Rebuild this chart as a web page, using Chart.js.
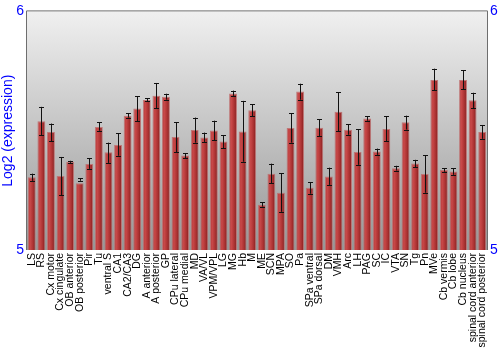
<!DOCTYPE html>
<html>
<head>
<meta charset="utf-8">
<script src="https://cdn.jsdelivr.net/npm/chart.js@4"></script>
<style>
  body { margin: 0; background: #fff; }
  #wrap { width: 500px; height: 350px; }
</style>
</head>
<body>
<div id="wrap"><canvas id="myChart"></canvas></div>
<script>
// regions
const regions = ['LS', 'RS', 'Cx motor', 'Cx cingulate', 'OB anterior', 'OB posterior', 'Pir', 'Tu',
  'ventral S', 'CA1', 'CA2/CA3', 'DG', 'A anterior', 'A posterior', 'GP', 'CPu lateral', 'CPu medial',
  'MD', 'VA/VL', 'VPM/VPL', 'LG', 'MG', 'Hb', 'M', 'ME', 'SCN', 'MPA', 'SO', 'Pa', 'SPa ventral',
  'SPa dorsal', 'DM', 'VMH', 'Arc', 'LH', 'PAG', 'SC', 'IC', 'VTA', 'SN', 'Tg', 'Pn', 'MVe',
  'Cb vermis', 'Cb lobe', 'Cb nucleus', 'spinal cord anterior', 'spinal cord posterior'];

// mean log2 expression
const expression = [5.305, 5.54, 5.495, 5.31, 5.37, 5.28, 5.36, 5.515,
  5.41, 5.44, 5.563, 5.593, 5.629, 5.646, 5.642, 5.474, 5.396,
  5.503, 5.471, 5.501, 5.455, 5.656, 5.497, 5.586, 5.19, 5.32, 5.24, 5.511, 5.664, 5.261,
  5.5125, 5.308, 5.579, 5.504, 5.411, 5.551, 5.4125, 5.507, 5.343, 5.535, 5.3625, 5.319, 5.7125,
  5.335, 5.329, 5.7125, 5.628, 5.495];

// error bar ends
const errLow = [5.29, 5.48, 5.455, 5.23, 5.365, 5.29, 5.34, 5.5,
  5.365, 5.395, 5.555, 5.54, 5.623, 5.595, 5.63, 5.41, 5.385,
  5.45, 5.453, 5.46, 5.426, 5.646, 5.37, 5.56, 5.182, 5.28, 5.16, 5.45, 5.63, 5.236,
  5.478, 5.273, 5.497, 5.483, 5.357, 5.542, 5.399, 5.456, 5.333, 5.505, 5.347, 5.24, 5.67,
  5.328, 5.315, 5.674, 5.595, 5.466];
const errHigh = [5.32, 5.6, 5.53, 5.39, 5.374, 5.3, 5.385, 5.535,
  5.45, 5.49, 5.574, 5.645, 5.636, 5.7, 5.655, 5.535, 5.405,
  5.555, 5.492, 5.542, 5.482, 5.668, 5.625, 5.611, 5.2, 5.362, 5.322, 5.574, 5.697, 5.285,
  5.547, 5.345, 5.662, 5.528, 5.507, 5.561, 5.425, 5.56, 5.353, 5.563, 5.378, 5.398, 5.76,
  5.342, 5.342, 5.753, 5.659, 5.524];

const yTicks = [5, 6];

const frame = {
  id: 'frame',
  beforeDraw(chart) {
    const { ctx, chartArea: a } = chart;
    const g = ctx.createLinearGradient(0, a.top, 0, a.bottom);
    g.addColorStop(0, '#f0f0f0');
    g.addColorStop(1, '#979797');
    ctx.save();
    ctx.fillStyle = g;
    ctx.fillRect(a.left, a.top, a.right - a.left, a.bottom - a.top);
    ctx.restore();
  },
  afterDraw(chart) {
    const { ctx, chartArea: a } = chart;
    ctx.save();
    ctx.strokeStyle = '#6e6e6e';
    ctx.lineWidth = 1;
    ctx.beginPath();
    ctx.moveTo(a.left - 0.5, a.bottom);
    ctx.lineTo(a.left - 0.5, a.top - 0.5);
    ctx.lineTo(a.right + 0.5, a.top - 0.5);
    ctx.lineTo(a.right + 0.5, a.bottom);
    ctx.stroke();
    ctx.restore();
  },
  afterDatasetsDraw(chart) {
    const { ctx } = chart;
    const x = chart.scales.x, y = chart.scales.y;
    ctx.save();
    ctx.strokeStyle = '#111';
    ctx.lineWidth = 1;
    regions.forEach((r, i) => {
      const px = Math.round(x.getPixelForValue(i)) + 0.5;
      const lo = y.getPixelForValue(errLow[i]);
      const hi = y.getPixelForValue(errHigh[i]);
      ctx.beginPath();
      ctx.moveTo(px, lo); ctx.lineTo(px, hi);
      ctx.moveTo(px - 2.5, Math.round(lo) + 0.5); ctx.lineTo(px + 2.5, Math.round(lo) + 0.5);
      ctx.moveTo(px - 2.5, Math.round(hi) + 0.5); ctx.lineTo(px + 2.5, Math.round(hi) + 0.5);
      ctx.stroke();
    });
    ctx.restore();
  }
};

function barFill(c) {
  const chart = c.chart;
  const x = chart.scales.x;
  if (!x || !chart.chartArea) return '#b03535';
  const cx = x.getPixelForValue(c.dataIndex);
  const w = (x.width / regions.length) * 0.8;
  const g = chart.ctx.createLinearGradient(cx - w / 2, 0, cx + w / 2, 0);
  g.addColorStop(0, '#b53a3a');
  g.addColorStop(0.3, '#c84848');
  g.addColorStop(0.7, '#a83030');
  g.addColorStop(1, '#7e1c1c');
  return g;
}

const ctx = document.getElementById('myChart').getContext('2d');
new Chart(ctx, {
  type: 'bar',
  data: {
    labels: regions,
    datasets: [{
      data: expression,
      backgroundColor: barFill,
      borderColor: 'rgba(190,110,110,0.9)',
      borderWidth: 1,
      barPercentage: 0.82,
      categoryPercentage: 1
    }]
  },
  plugins: [frame],
  options: {
    responsive: true,
    maintainAspectRatio: false,
    animation: false,
    layout: { padding: { top: 10, left: 0, right: 0, bottom: 0 } },
    plugins: { legend: { display: false }, tooltip: { enabled: false } },
    scales: {
      x: {
        grid: { display: false, drawTicks: false },
        border: { display: false },
        ticks: {
          autoSkip: false, maxRotation: 90, minRotation: 90, padding: 3,
          color: '#000', font: { family: 'Liberation Sans, Arial', size: 10.5 }
        },
        afterFit(s) { s.height = 100; }
      },
      y: {
        position: 'left', min: 5, max: 6,
        grid: { display: false, drawTicks: false },
        border: { display: false },
        afterBuildTicks(s) { s.ticks = yTicks.map(v => ({ value: v })); },
        ticks: { color: '#0000ff', padding: 3, font: { family: 'Liberation Sans, Arial', size: 14 } },
        title: {
          display: true, text: 'Log2 (expression)', color: '#0000ff', padding: 0,
          font: { family: 'Liberation Sans, Arial', size: 14 }
        },
        afterFit(s) { s.width = 27; }
      },
      y2: {
        position: 'right', min: 5, max: 6,
        grid: { display: false, drawTicks: false },
        border: { display: false },
        afterBuildTicks(s) { s.ticks = yTicks.map(v => ({ value: v })); },
        ticks: { color: '#0000ff', padding: 3, font: { family: 'Liberation Sans, Arial', size: 14 } },
        afterFit(s) { s.width = 13; }
      }
    }
  }
});
</script>
</body>
</html>
